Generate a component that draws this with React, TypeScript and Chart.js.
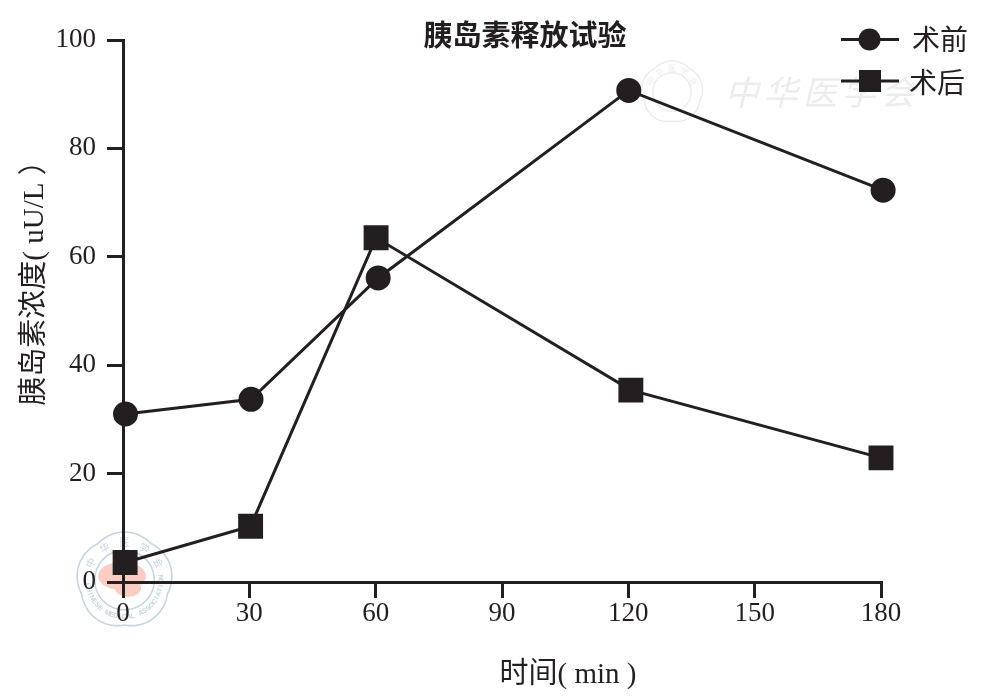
import React, { useEffect, useRef } from "react";
import { Chart, registerables } from "chart.js";
Chart.register(...registerables);

const preMinutes = [0.6, 30.4, 60.6, 120.1, 180.5];
const preOp = [31, 33.7, 56.1, 90.7, 72.3];
const postMinutes = [0.5, 30.3, 60.1, 120.6, 180];
const postOp = [3.6, 10.3, 63.5, 35.4, 22.9];
const xTicks = [0, 30, 60, 90, 120, 150, 180];
const yTicks = [0, 20, 40, 60, 80, 100];
const INK = "#231f20";
const CJK = '"Noto Sans CJK SC"';
const FONT = `"Liberation Serif", ${CJK}, serif`;

function seal(g: any, cx: number, cy: number, R: number, color: string, width: number) {
  g.strokeStyle = color;
  g.lineWidth = width;
  for (const k of [1, 0.62]) {
    g.beginPath();
    for (let i = 0; i <= 200; i++) {
      const t = (i / 200) * Math.PI * 2 - Math.PI / 2;
      const r = k === 1 ? R * (0.94 + 0.06 * Math.abs(Math.cos(2.5 * (t + Math.PI / 2)))) : R * k;
      const x = cx + r * Math.cos(t);
      const y = cy + r * Math.sin(t);
      if (i === 0) g.moveTo(x, y);
      else g.lineTo(x, y);
    }
    g.closePath();
    g.stroke();
  }
}

function ringText(g: any, text: string, cx: number, cy: number, r: number, start: number, step: number, color: string, font: string, inward: boolean) {
  g.save();
  g.fillStyle = color;
  g.font = font;
  g.textAlign = "center";
  g.textBaseline = "middle";
  Array.from(text).forEach((ch, i) => {
    const a = start + i * step;
    g.save();
    g.translate(cx + r * Math.cos(a), cy + r * Math.sin(a));
    g.rotate(inward ? a + Math.PI / 2 : a - Math.PI / 2);
    g.fillText(ch, 0, 0);
    g.restore();
  });
  g.restore();
}

export default function App() {
  const ref = useRef<HTMLCanvasElement>(null);
  useEffect(() => {
    const decor = {
      id: "decor",
      beforeDraw(c: any) {
        const g = c.ctx;
        g.save();
        seal(g, 124.5, 580, 48, "#c3d6de", 1.6);
        g.fillStyle = "#f9cdc1";
        g.beginPath();
        g.ellipse(122, 576, 24, 14, 0, 0, Math.PI * 2);
        g.fill();
        g.beginPath();
        g.ellipse(128, 588, 13, 9, 0, 0, Math.PI * 2);
        g.fill();
        ringText(g, "中华医学会", 124.5, 580, 38, -Math.PI / 2 - 1.1, 0.55, "#c3d6de", `10px ${CJK}`, true);
        ringText(g, "CHINESE MEDICAL ASSOCIATION", 124.5, 580, 37, Math.PI - 0.15, -0.118, "#c3d6de", `bold 7px "Liberation Sans"`, false);
        seal(g, 672, 92, 31, "#ececec", 1.5);
        ringText(g, "中华医学会", 672, 92, 24, -Math.PI / 2 - 1.1, 0.55, "#ececec", `8px ${CJK}`, true);
        g.fillStyle = "#ececec";
        g.font = `34px ${CJK}`;
        g.textAlign = "center";
        g.textBaseline = "middle";
        Array.from("中华医学会").forEach((ch, i) => {
          g.save();
          g.transform(1, 0, -0.25, 1, 745 + i * 39, 92);
          g.fillText(ch, 0, 0);
          g.restore();
        });
        g.restore();
      },
      afterDraw(c: any) {
        const g = c.ctx;
        g.save();
        g.fillStyle = INK;
        g.textBaseline = "middle";
        g.textAlign = "center";
        g.font = `bold 29px ${CJK}`;
        g.fillText("胰岛素释放试验", 525, 35);
        g.font = `29px ${FONT}`;
        g.fillText("时间( min )", 568, 675);
        g.save();
        g.translate(35, 276);
        g.rotate(-Math.PI / 2);
        g.fillText("胰岛素浓度( uU/L ）", 0, 0);
        g.restore();
        g.font = `28px ${CJK}`;
        g.textAlign = "left";
        g.fillText("术前", 912, 39);
        g.fillText("术后", 909, 82);
        g.lineWidth = 3;
        g.strokeStyle = INK;
        g.beginPath();
        g.moveTo(841, 39.5);
        g.lineTo(899, 39.5);
        g.moveTo(841, 81);
        g.lineTo(899, 81);
        g.stroke();
        g.beginPath();
        g.arc(869.5, 39.5, 11, 0, Math.PI * 2);
        g.fill();
        g.fillRect(859, 70, 22, 22);
        g.restore();
      },
    };
    const chart = new Chart(ref.current!, {
      type: "line",
      data: {
        datasets: [
          { label: "术前", data: preMinutes.map((x, i) => ({ x, y: preOp[i] })), borderColor: INK, backgroundColor: INK, borderWidth: 3, pointStyle: "circle", pointRadius: 11, clip: false },
          { label: "术后", data: postMinutes.map((x, i) => ({ x, y: postOp[i] })), borderColor: INK, backgroundColor: INK, borderWidth: 3, pointStyle: "rect", pointRadius: 15.5, clip: false },
        ],
      },
      options: {
        animation: false,
        responsive: false,
        layout: { padding: { top: 40, right: 100, left: 0, bottom: 0 } },
        plugins: { legend: { display: false }, tooltip: { enabled: false } },
        scales: {
          x: {
            type: "linear", min: 0, max: 180,
            afterBuildTicks: (a: any) => { a.ticks = xTicks.map((value) => ({ value })); },
            afterFit: (a: any) => { a.height = 117; },
            grid: { drawOnChartArea: false, color: INK, lineWidth: 3, tickLength: 16 },
            border: { color: INK, width: 3 },
            ticks: { color: INK, font: { family: FONT, size: 27 }, maxRotation: 0, padding: 0 },
          },
          y: {
            min: 0, max: 100,
            afterBuildTicks: (a: any) => { a.ticks = yTicks.map((value) => ({ value })); },
            afterFit: (a: any) => { a.width = 123; },
            grid: { drawOnChartArea: false, color: INK, lineWidth: 3, tickLength: 16 },
            border: { color: INK, width: 3 },
            ticks: { color: INK, font: { family: FONT, size: 27 }, padding: 11 },
          },
        },
      },
      plugins: [decor],
    } as any);
    return () => chart.destroy();
  }, []);
  return <canvas ref={ref} width={981} height={699} style={{ position: "absolute", left: 0, top: 0, display: "block" }} />;
}
